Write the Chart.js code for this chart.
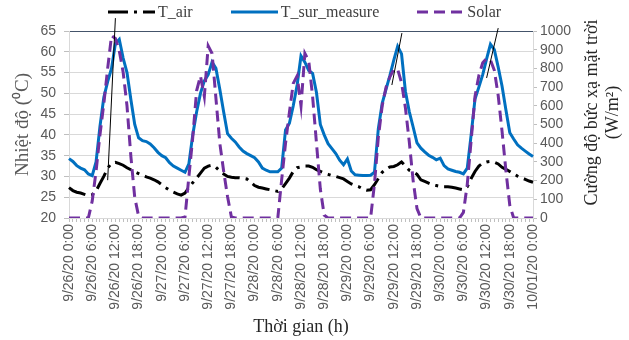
<!DOCTYPE html>
<html>
<head>
<meta charset="utf-8">
<script src="https://cdn.jsdelivr.net/npm/chart.js@4.4.1/dist/chart.umd.min.js"></script>
<style>
  html, body { margin: 0; padding: 0; background: #fff; }
  #wrap { position: relative; width: 629px; height: 340px; }
  #legend {
    position: absolute; left: 108px; top: 3px;
    display: flex; gap: 38px;
    font: 16px "Liberation Serif", "Times New Roman", serif; color: #404040;
  }
  .item { display: flex; align-items: center; line-height: 18px; }
  .item svg { margin-right: 3px; }
</style>
</head>
<body>
<div id="wrap">
  <canvas id="chart" width="629" height="340"></canvas>
  <div id="legend">
    <div class="item"><svg width="47" height="6"><line x1="0" y1="3" x2="47" y2="3" stroke="#000" stroke-width="3" stroke-dasharray="20 6 3 6"/></svg>T_air</div>
    <div class="item"><svg width="47" height="6"><line x1="0" y1="3" x2="47" y2="3" stroke="#0070C0" stroke-width="3"/></svg>T_sur_measure</div>
    <div class="item"><svg width="47" height="6"><line x1="0" y1="3" x2="47" y2="3" stroke="#7030A0" stroke-width="3" stroke-dasharray="11 6"/></svg>Solar</div>
  </div>
</div>
<script>
// hourly readings, 9/26/20 0:00 -> 10/01/20 0:00
const hours = Array.from({ length: 121 }, (_, i) => i);

const tickLabels = [
  '9/26/20 0:00', '9/26/20 6:00', '9/26/20 12:00', '9/26/20 18:00',
  '9/27/20 0:00', '9/27/20 6:00', '9/27/20 12:00', '9/27/20 18:00',
  '9/28/20 0:00', '9/28/20 6:00', '9/28/20 12:00', '9/28/20 18:00',
  '9/29/20 0:00', '9/29/20 6:00', '9/29/20 12:00', '9/29/20 18:00',
  '9/30/20 0:00', '9/30/20 6:00', '9/30/20 12:00', '9/30/20 18:00',
  '10/01/20 0:00'
];

const tAir = [
  27.3, 26.6, 26.2, 26.0, 25.7, 25.4, 25.6, 26.5, 28.3, 30.0, 32.0, 33.2,
  33.4, 33.1, 32.7, 32.1, 31.6, 31.1, 30.7, 30.3, 29.9, 29.6, 29.2, 28.7,
  28.0, 27.3, 26.7, 26.2, 25.8, 25.5, 26.0, 27.3, 28.5, 29.6, 30.8, 32.0,
  32.5, 32.7, 32.2, 31.3, 30.6, 30.0, 29.8, 29.7, 29.7, 29.6, 29.4, 28.6,
  27.8, 27.4, 27.2, 27.0, 26.8, 26.6, 26.4, 27.0, 28.3, 29.6, 31.2, 32.1,
  32.3, 32.5, 32.5, 32.2, 31.6, 31.2, 30.8, 30.5, 30.2, 30.0, 29.7, 29.4,
  28.8, 28.2, 27.8, 27.5, 27.0, 26.7, 26.8, 28.0, 29.5, 31.0, 31.8, 32.3,
  32.4, 32.8, 33.5, 32.5, 31.5, 31.1, 30.5, 29.2, 28.8, 28.4, 28.0, 27.8,
  27.6, 27.5, 27.5, 27.4, 27.2, 27.0, 26.8, 27.5, 29.5, 31.2, 32.5, 33.2,
  33.5, 33.6, 33.4, 33.0, 32.2, 31.7, 31.2, 30.6, 30.1, 29.7, 29.3, 28.9, 28.6
];

const tSur = [
  34.3, 33.6, 32.6, 32.0, 31.6, 30.6, 30.2, 33.5, 42.0, 49.0, 52.8, 56.0,
  62.0, 63.0, 58.5, 55.0, 48.5, 42.5, 39.3, 38.6, 38.4, 37.8, 36.9, 35.8,
  35.0, 34.5, 33.3, 32.5, 32.0, 31.5, 31.0, 33.0, 40.0, 45.5, 50.0, 53.0,
  54.5, 57.5, 56.0, 51.0, 45.5, 40.3, 39.2, 38.3, 37.1, 36.1, 35.5, 35.0,
  34.5, 33.5, 32.0, 31.5, 31.1, 31.1, 31.1, 32.0, 41.2, 42.8, 47.0, 52.0,
  59.0, 57.5, 55.5, 54.8, 50.2, 42.5, 40.0, 37.9, 36.7, 35.5, 33.9, 32.8,
  34.2, 31.3, 30.4, 30.3, 30.2, 30.2, 30.3, 31.0, 41.5, 47.6, 51.0, 54.3,
  58.0, 61.3, 59.5, 50.5, 45.6, 41.9, 38.1, 36.8, 35.9, 35.1, 34.6, 34.0,
  34.4, 32.6, 31.8, 31.5, 31.2, 31.0, 30.6, 32.0, 40.0, 48.6, 51.5, 54.5,
  58.3, 61.8, 60.5, 56.3, 51.7, 46.0, 40.5, 39.0, 37.6, 36.8, 36.1, 35.4, 34.8
];

const solar = [
  0, 0, 0, 0, 0, 0, 90, 250, 444, 610, 800, 975,
  960, 895, 780, 600, 330, 110, 10, 0, 0, 0, 0, 0,
  0, 0, 0, 0, 0, 0, 5, 220, 430, 680, 760, 650,
  920, 880, 640, 400, 250, 115, 5, 0, 0, 0, 0, 0,
  0, 0, 0, 0, 0, 0, 0, 205, 399, 565, 720, 760,
  600, 880, 840, 650, 400, 155, 15, 0, 0, 0, 0, 0,
  0, 0, 0, 0, 0, 0, 0, 183, 432, 600, 700, 755,
  795, 795, 724, 590, 408, 200, 50, 0, 0, 0, 0, 0,
  0, 0, 0, 0, 0, 0, 30, 180, 413, 650, 762, 830,
  853, 845, 790, 655, 463, 252, 67, 0, 0, 0, 0, 0, 0
];

// thin pointer lines drawn over the plot: [hour, temp] start and end
const pointerFrom = [[12.0, 68.1], [86.1, 64.5], [111.0, 65.7]];
const pointerTo = [[10.0, 29.1], [83.5, 52.0], [108.0, 53.7]];

const sans = '"Liberation Sans", Arial, sans-serif';
const serif = '"Liberation Serif", "Times New Roman", serif';
const tickColor = '#595959';

const extras = {
  id: 'extras',
  afterDatasetsDraw(chart) {
    const { ctx, scales: { x, y } } = chart;
    ctx.save();
    ctx.strokeStyle = '#000';
    ctx.lineWidth = 1;
    pointerFrom.forEach((p, i) => {
      ctx.beginPath();
      ctx.moveTo(x.getPixelForValue(p[0]), y.getPixelForValue(p[1]));
      ctx.lineTo(x.getPixelForValue(pointerTo[i][0]), y.getPixelForValue(pointerTo[i][1]));
      ctx.stroke();
    });
    ctx.restore();
  },
  afterDraw(chart) {
    // right axis title reads bottom-to-top like the left one
    const { ctx, chartArea } = chart;
    const cy = (chartArea.top + chartArea.bottom) / 2 - 12;
    ctx.save();
    ctx.fillStyle = '#262626';
    ctx.font = '18px ' + serif;
    ctx.textAlign = 'center';
    ctx.textBaseline = 'middle';
    ctx.translate(chartArea.right + 59, cy);
    ctx.rotate(-Math.PI / 2);
    ctx.fillText('Cường độ bức xạ mặt trời', 0, 0);
    ctx.restore();
    ctx.save();
    ctx.fillStyle = '#262626';
    ctx.font = '18px ' + serif;
    ctx.textAlign = 'center';
    ctx.textBaseline = 'middle';
    ctx.translate(chartArea.right + 80, cy);
    ctx.rotate(-Math.PI / 2);
    ctx.fillText('(W/m²)', 0, 0);
    ctx.restore();
  }
};

new Chart(document.getElementById('chart'), {
  type: 'line',
  data: {
    labels: hours,
    datasets: [
      {
        label: 'Solar', data: solar, yAxisID: 'y1',
        borderColor: '#7030A0', borderWidth: 3, borderDash: [11, 6],
        pointRadius: 0, fill: false, tension: 0
      },
      {
        label: 'T_sur_measure', data: tSur, yAxisID: 'y',
        borderColor: '#0070C0', borderWidth: 3,
        pointRadius: 0, fill: false, tension: 0
      },
      {
        label: 'T_air', data: tAir, yAxisID: 'y',
        borderColor: '#000000', borderWidth: 3, borderDash: [18, 6, 3, 6],
        pointRadius: 0, fill: false, tension: 0
      }
    ]
  },
  options: {
    responsive: false,
    animation: false,
    layout: { padding: { top: 31, left: 0, right: 0, bottom: 0 } },
    plugins: {
      legend: { display: false },
      tooltip: { enabled: false }
    },
    scales: {
      x: {
        type: 'category',
        offset: false,
        grid: { drawOnChartArea: false, drawTicks: true, tickLength: 4, color: '#bfbfbf' },
        border: { color: '#d9d9d9' },
        ticks: {
          autoSkip: false, minRotation: 90, maxRotation: 90, padding: 2,
          color: tickColor, font: { family: sans, size: 14 },
          callback: (v, i) => (i % 6 === 0 ? tickLabels[i / 6] : '')
        },
        title: {
          display: true, text: 'Thời gian (h)', color: '#262626',
          font: { family: serif, size: 18 }, padding: { top: 0, bottom: 2 }
        },
        afterFit: (s) => { s.height = 122; }
      },
      y: {
        position: 'left',
        min: 20, max: 65,
        ticks: { stepSize: 5, autoSkip: false, padding: 8, color: tickColor, font: { family: sans, size: 14 } },
        grid: {
          color: (c) => (c.tick && c.tick.value === 65 ? '#44546a' : '#d9d9d9'),
          tickColor: '#bfbfbf', tickLength: 5
        },
        border: { color: '#d9d9d9' },
        title: {
          display: true, text: 'Nhiệt độ (⁰C)', color: '#595959',
          font: { family: serif, size: 19 }, padding: { top: 12, bottom: 0 }
        },
        afterFit: (s) => { s.width = 69; }
      },
      y1: {
        position: 'right',
        min: 0, max: 1000,
        ticks: {
          stepSize: 100, autoSkip: false, padding: 3, color: tickColor,
          font: { family: sans, size: 14 },
          callback: (v) => String(v)
        },
        grid: { drawOnChartArea: false, tickColor: '#bfbfbf', tickLength: 4 },
        border: { color: '#d9d9d9' },
        afterFit: (s) => { s.width = 96; }
      }
    }
  },
  plugins: [extras]
});
</script>
</body>
</html>
